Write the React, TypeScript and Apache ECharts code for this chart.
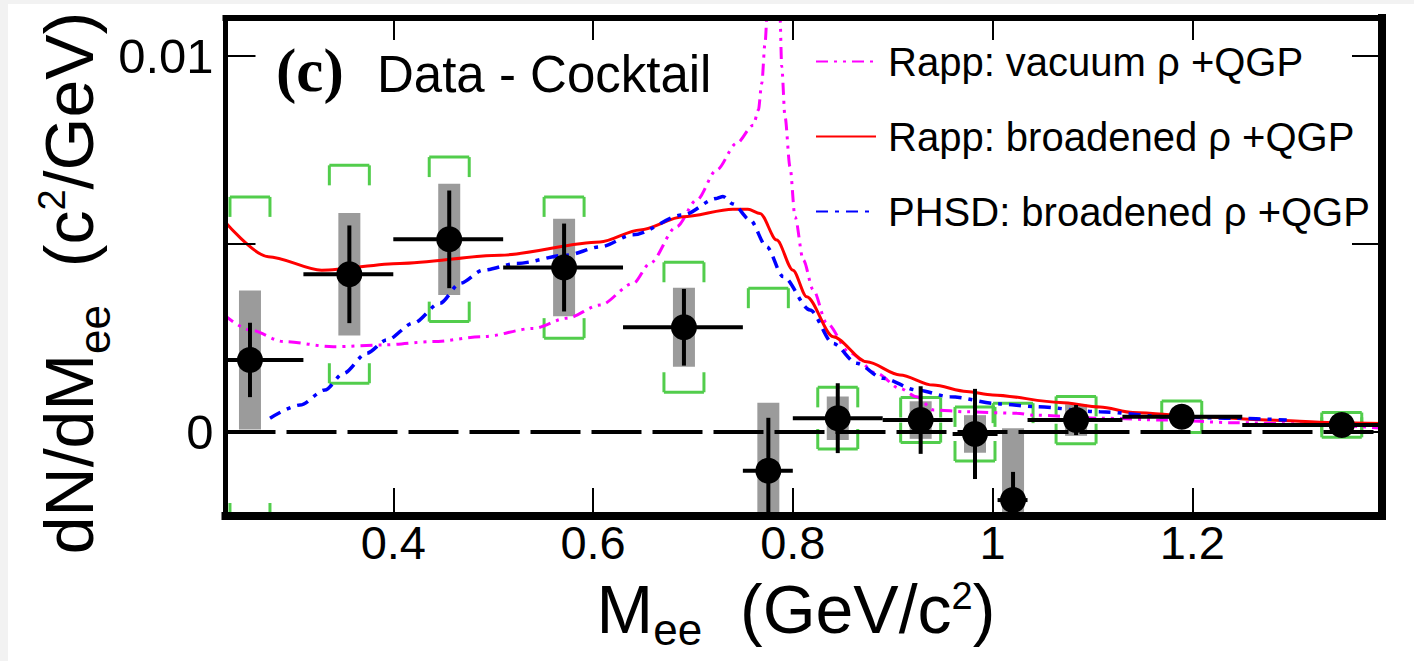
import React, { useEffect, useRef } from 'react';
import * as echarts from 'echarts';

// ---- axis ranges & ticks ----
const X_MIN = 0.232;
const X_MAX = 1.3899;
const Y_MIN = -0.002244;
const Y_MAX = 0.011012;
const X_TICKS = [0.4, 0.6, 0.8, 1.0, 1.2];
const X_TICK_LABELS = ['0.4', '0.6', '0.8', '1', '1.2'];
const Y_TICKS = [0, 0.005, 0.01];
const Y_LABEL_VALUES = [0, 0.01];
const Y_TICK_LABELS = ['0', '0.01'];

// ---- data points (Data - Cocktail) ----
const massCenters = [0.2565, 0.356, 0.456, 0.571, 0.691, 0.7755, 0.845, 0.928, 0.9824, 1.0205, 1.0836, 1.1894, 1.3496];
const yields = [0.00191, 0.00419, 0.00512, 0.00437, 0.00278, -0.00104, 0.00036, 0.00031, -0.00006, -0.00182, 0.00031, 0.0004, 0.00018];
const binLow = [0.2, 0.31, 0.4, 0.51, 0.63, 0.75, 0.8, 0.89, 0.96, 1.005, 1.035, 1.13, 1.25];
const binHigh = [0.31, 0.4, 0.51, 0.63, 0.75, 0.8, 0.89, 0.96, 1.005, 1.035, 1.13, 1.25, 1.4];
const statErr = [0.00099, 0.0013, 0.0013, 0.00117, 0.00102, 0.00141, 0.00093, 0.0009, 0.0012, 0.00075, 0.0004, 0.0002, 0.00015];
const sysErr = [0.00185, 0.00163, 0.00148, 0.0013, 0.00105, 0.00181, 0.00058, 0.0005, 0.0005, 0.00191, 0.00042, 0.0001, 0.0001];
const cocktailErr = [0.00434, 0.0029, 0.00219, 0.00188, 0.00173, 0.00486, 0.00082, 0.0006, 0.00072, 0.00258, 0.00063, 0.00042, 0.00033];

// ---- model curves [mass, yield] ----
const vacuumRho: number[][] = [
  [0.23, 0.00312], [0.2565, 0.00271], [0.2899, 0.0024], [0.34, 0.00226], [0.39, 0.00231],
  [0.4401, 0.0024], [0.4901, 0.00253], [0.5402, 0.00275], [0.5736, 0.00302], [0.607, 0.00337],
  [0.6403, 0.00395], [0.657, 0.00448], [0.6837, 0.00546], [0.7038, 0.00617], [0.7238, 0.00697],
  [0.7438, 0.00768], [0.7605, 0.00816], [0.7655, 0.00856], [0.7689, 0.00927], [0.7722, 0.01034],
  [0.7745, 0.0112], [0.7805, 0.018], [0.787, 0.0112], [0.7889, 0.00972], [0.7922, 0.00838],
  [0.7972, 0.00705], [0.8022, 0.00572], [0.8105, 0.00457], [0.8205, 0.00377], [0.8339, 0.00289],
  [0.8573, 0.00209], [0.884, 0.00155], [0.9073, 0.00115], [0.924, 0.00093], [0.9407, 0.00058],
  [0.974, 0.00053], [1.0242, 0.00049], [1.0405, 0.00044], [1.1076, 0.00036], [1.1744, 0.00031],
  [1.2407, 0.00024], [1.3078, 0.00021], [1.392, 0.00009],
];
const broadenedRho: number[][] = [
  [0.23, 0.00563], [0.2748, 0.00466], [0.3283, 0.0043], [0.4067, 0.00448], [0.5071, 0.0047],
  [0.6069, 0.00505], [0.647, 0.00537], [0.69, 0.00572], [0.7401, 0.00592], [0.7551, 0.00592],
  [0.7672, 0.00581], [0.7839, 0.0051], [0.8001, 0.0043], [0.8139, 0.00359], [0.8403, 0.00253],
  [0.874, 0.00186], [0.9073, 0.00151], [0.9404, 0.00124], [0.974, 0.00107], [1.0, 0.00098],
  [1.0675, 0.00078], [1.1076, 0.00066], [1.1406, 0.00051], [1.2077, 0.0004], [1.2745, 0.00031],
  [1.3409, 0.00024], [1.392, 0.00022],
];
const phsdRho: number[][] = [
  [0.2766, 0.00036], [0.3066, 0.00071], [0.3316, 0.00111], [0.35, 0.00155], [0.3734, 0.00209],
  [0.3934, 0.00244], [0.42, 0.00289], [0.4468, 0.00342], [0.4668, 0.00395], [0.4901, 0.0043],
  [0.5236, 0.00448], [0.5736, 0.0047], [0.607, 0.00492], [0.64, 0.00524], [0.69, 0.00577],
  [0.7238, 0.00621], [0.7301, 0.00626], [0.7401, 0.00606], [0.7571, 0.00564], [0.7739, 0.00492],
  [0.7902, 0.00413], [0.8172, 0.00324], [0.8403, 0.00235], [0.864, 0.00182], [0.8903, 0.00142],
  [0.924, 0.00111], [0.9574, 0.00093], [1.0075, 0.00074], [1.0405, 0.00067], [1.1076, 0.00053],
  [1.1744, 0.0004], [1.2407, 0.00036], [1.2945, 0.00031],
];

const SERIES_NAMES = ['Rapp: vacuum ρ +QGP', 'Rapp: broadened ρ +QGP', 'PHSD: broadened ρ +QGP'];

const FONT = '"Liberation Sans", Arial, Helvetica, sans-serif';
const SERIF = '"Liberation Serif", "Times New Roman", serif';
const GRAY = '#9b9b9b';
const GREEN = '#52cd4c';
const CENTRAL = 0.3465; // (ascent - descent) / 2 for Liberation Sans

type CS = { x: number; y: number; width: number; height: number };
type Piece = { t: string; size: number; dy: number };

function vseg(x: number, ya: number, yb: number, cs: CS, style: any) {
  const t = Math.max(Math.min(ya, yb), cs.y);
  const b = Math.min(Math.max(ya, yb), cs.y + cs.height);
  if (b <= t || x < cs.x || x > cs.x + cs.width) return null;
  return { type: 'line', shape: { x1: x, y1: t, x2: x, y2: b }, style };
}
function hseg(y: number, xa: number, xb: number, cs: CS, style: any) {
  const l = Math.max(Math.min(xa, xb), cs.x);
  const r = Math.min(Math.max(xa, xb), cs.x + cs.width);
  if (r <= l || y < cs.y || y > cs.y + cs.height) return null;
  return { type: 'line', shape: { x1: l, y1: y, x2: r, y2: y }, style };
}

// lays out a title with sub/superscripts along a baseline at local y = 0, centred on local x = 0
function layoutTitle(pieces: Piece[]) {
  const ctx = document.createElement('canvas').getContext('2d') as CanvasRenderingContext2D;
  const widths = pieces.map((p) => {
    ctx.font = `${p.size}px "Liberation Sans"`;
    return ctx.measureText(p.t).width;
  });
  const total = widths.reduce((a, b) => a + b, 0);
  let cursor = -total / 2;
  return pieces.map((p, i) => {
    const el = {
      type: 'text', x: cursor, y: p.dy - CENTRAL * p.size, z: 20, silent: true,
      style: { text: p.t, fontFamily: FONT, fontSize: p.size, fill: '#000', align: 'left', verticalAlign: 'middle' },
    };
    cursor += widths[i];
    return el;
  });
}

const X_TITLE: Piece[] = [
  { t: 'M', size: 68, dy: 0 },
  { t: 'ee', size: 44, dy: 12 },
  { t: '  (GeV/c', size: 68, dy: 0 },
  { t: '2', size: 38, dy: -24 },
  { t: ')', size: 68, dy: 0 },
];
const Y_TITLE: Piece[] = [
  { t: 'dN/dM', size: 68, dy: 0 },
  { t: 'ee', size: 44, dy: 17 },
  { t: '  (c', size: 68, dy: 0 },
  { t: '2', size: 38, dy: -28 },
  { t: '/GeV)', size: 68, dy: 0 },
];

export default function App() {
  const ref = useRef<HTMLDivElement>(null);

  useEffect(() => {
    if (!ref.current) return;
    const chart = echarts.init(ref.current, undefined, { renderer: 'svg' });

    const sysData = massCenters.map((m, i) => [m, yields[i], sysErr[i]]);
    const cocktailData = massCenters.map((m, i) => [m, yields[i], cocktailErr[i]]);
    const statData = massCenters.map((m, i) => [m, yields[i], statErr[i], binLow[i], binHigh[i]]);
    const pointData = massCenters.map((m, i) => [m, yields[i]]);

    const xLabel = (v: number) => {
      const i = X_TICKS.findIndex((t) => Math.abs(t - v) < 1e-9);
      return i >= 0 ? X_TICK_LABELS[i] : '';
    };
    const yLabel = (v: number) => {
      const i = Y_LABEL_VALUES.findIndex((t) => Math.abs(t - v) < 1e-12);
      return i >= 0 ? Y_TICK_LABELS[i] : '';
    };

    const option: any = {
      animation: false,
      backgroundColor: '#ffffff',
      grid: { left: 225.5, top: 18, width: 1156.5, height: 498, containLabel: false, outerBoundsMode: 'none' },
      xAxis: [
        {
          type: 'value', position: 'bottom', min: X_MIN, max: X_MAX, z: 10,
          axisLine: { show: true, onZero: false, lineStyle: { color: '#000', width: 8, cap: 'square' } },
          axisTick: { show: true, inside: true, length: 28, customValues: X_TICKS, lineStyle: { color: '#000', width: 2 } },
          axisLabel: {
            show: true, customValues: X_TICKS, formatter: xLabel, margin: 6.7, lineHeight: 40,
            fontSize: 47, color: '#000', fontFamily: FONT,
          },
          splitLine: { show: false },
        },
        {
          type: 'value', position: 'top', min: X_MIN, max: X_MAX, z: 10,
          axisLine: { show: true, onZero: false, lineStyle: { color: '#000', width: 6, cap: 'square' } },
          axisTick: { show: true, inside: true, length: 22, customValues: X_TICKS, lineStyle: { color: '#000', width: 2 } },
          axisLabel: { show: false },
          splitLine: { show: false },
        },
      ],
      yAxis: [
        {
          type: 'value', position: 'left', min: Y_MIN, max: Y_MAX, z: 10,
          axisLine: { show: true, onZero: false, lineStyle: { color: '#000', width: 5, cap: 'square' } },
          axisTick: { show: true, inside: true, length: 30, customValues: Y_TICKS, lineStyle: { color: '#000', width: 2 } },
          axisLabel: { show: true, customValues: Y_LABEL_VALUES, formatter: yLabel, margin: 12, fontSize: 49, color: '#000', fontFamily: FONT },
          splitLine: { show: false },
        },
        {
          type: 'value', position: 'right', min: Y_MIN, max: Y_MAX, z: 10,
          axisLine: { show: true, onZero: false, lineStyle: { color: '#000', width: 8, cap: 'square' } },
          axisTick: { show: true, inside: true, length: 30, customValues: Y_TICKS, lineStyle: { color: '#000', width: 2 } },
          axisLabel: { show: false },
          splitLine: { show: false },
        },
      ],
      legend: {
        orient: 'vertical', left: 815, top: 40.5, padding: 0,
        itemWidth: 60, itemHeight: 42, itemGap: 33,
        data: SERIES_NAMES,
        itemStyle: { opacity: 0, color: 'rgba(0,0,0,0)', borderWidth: 0 },
        textStyle: { fontSize: 40, lineHeight: 42, fontFamily: FONT, color: '#000', padding: [0, 0, 0, 7] },
      },
      graphic: [
        { type: 'rect', silent: true, shape: { x: 0, y: 0, width: 1414, height: 4 }, style: { fill: '#f2f2f2' } },
        { type: 'rect', silent: true, shape: { x: 0, y: 0, width: 8, height: 661 }, style: { fill: '#f2f2f2' } },
        {
          type: 'text', x: 276, y: 70, z: 20,
          style: { text: '(c)', fontFamily: SERIF, fontWeight: 'bold', fontSize: 61, fill: '#000', align: 'left', verticalAlign: 'middle' },
        },
        {
          type: 'text', x: 377, y: 74.3, z: 20,
          style: { text: 'Data - Cocktail', fontFamily: FONT, fontSize: 51, fill: '#000', align: 'left', verticalAlign: 'middle' },
        },
        { type: 'group', x: 796, y: 633, children: layoutTitle(X_TITLE) },
        { type: 'group', x: 93, y: 283, rotation: Math.PI / 2, children: layoutTitle(Y_TITLE) },
      ],
      series: [
        {
          name: 'zero', type: 'line', z: 1, data: [], silent: true,
          markLine: {
            silent: true, symbol: ['none', 'none'], label: { show: false },
            lineStyle: { color: '#000', width: 4, type: [50, 11] },
            data: [{ yAxis: 0 }],
          },
        },
        {
          name: 'sys', type: 'custom', z: 2, silent: true, data: sysData,
          encode: { x: 0, y: 1 },
          renderItem: (params: any, api: any) => {
            const cs: CS = params.coordSys;
            const x = api.value(0), y = api.value(1), e = api.value(2);
            const p1 = api.coord([x, y + e]);
            const p2 = api.coord([x, y - e]);
            const t = Math.max(p1[1], cs.y);
            const b = Math.min(p2[1], cs.y + cs.height);
            if (b <= t) return null;
            return { type: 'rect', shape: { x: p1[0] - 11, y: t, width: 22, height: b - t }, style: { fill: GRAY } };
          },
        },
        {
          name: 'cocktail', type: 'custom', z: 3, silent: true, data: cocktailData,
          encode: { x: 0, y: 1 },
          renderItem: (params: any, api: any) => {
            const cs: CS = params.coordSys;
            const x = api.value(0), y = api.value(1), g = api.value(2);
            const cx = api.coord([x, y])[0];
            const top = api.coord([x, y + g])[1];
            const bot = api.coord([x, y - g])[1];
            const hw = 20, leg = 20;
            const st = { stroke: GREEN, lineWidth: 3, fill: 'none' };
            const children = [
              hseg(top, cx - hw, cx + hw, cs, st),
              vseg(cx - hw, top, top + leg, cs, st),
              vseg(cx + hw, top, top + leg, cs, st),
              hseg(bot, cx - hw, cx + hw, cs, st),
              vseg(cx - hw, bot - leg, bot, cs, st),
              vseg(cx + hw, bot - leg, bot, cs, st),
            ].filter(Boolean);
            return { type: 'group', children };
          },
        },
        {
          name: SERIES_NAMES[0], type: 'line', z: 4, data: vacuumRho, symbol: 'none', showSymbol: false,
          smooth: 0.3, smoothMonotone: 'x', silent: true,
          lineStyle: { color: '#ff00ff', width: 3, type: [12, 6, 3, 6, 3, 6] },
          itemStyle: { color: '#ff00ff' },
        },
        {
          name: SERIES_NAMES[1], type: 'line', z: 4, data: broadenedRho, symbol: 'none', showSymbol: false,
          smooth: 0.3, smoothMonotone: 'x', silent: true,
          lineStyle: { color: '#ff0000', width: 3, type: 'solid' },
          itemStyle: { color: '#ff0000' },
        },
        {
          name: SERIES_NAMES[2], type: 'line', z: 4, data: phsdRho, symbol: 'none', showSymbol: false,
          smooth: 0.3, smoothMonotone: 'x', silent: true,
          lineStyle: { color: '#0000ff', width: 3.5, type: [12, 7, 4, 7] },
          itemStyle: { color: '#0000ff' },
        },
        {
          name: 'stat', type: 'custom', z: 5, silent: true, data: statData,
          encode: { x: 0, y: 1 },
          renderItem: (params: any, api: any) => {
            const cs: CS = params.coordSys;
            const x = api.value(0), y = api.value(1), e = api.value(2), lo = api.value(3), hi = api.value(4);
            const c = api.coord([x, y]);
            const t = api.coord([x, y + e])[1];
            const b = api.coord([x, y - e])[1];
            const l = api.coord([lo, y])[0];
            const r = api.coord([hi, y])[0];
            const st = { stroke: '#000', lineWidth: 4 };
            const children = [hseg(c[1], l, r, cs, st), vseg(c[0], t, b, cs, st)].filter(Boolean);
            return { type: 'group', children };
          },
        },
        {
          name: 'points', type: 'scatter', z: 6, silent: true, data: pointData,
          symbol: 'circle', symbolSize: 26, itemStyle: { color: '#000', opacity: 1 },
        },
      ],
    };

    chart.setOption(option);
    return () => {
      chart.dispose();
    };
  }, []);

  return (
    <div
      ref={ref}
      style={{ position: 'fixed', left: 0, top: 0, width: 1414, height: 661, background: '#fff' }}
    />
  );
}
